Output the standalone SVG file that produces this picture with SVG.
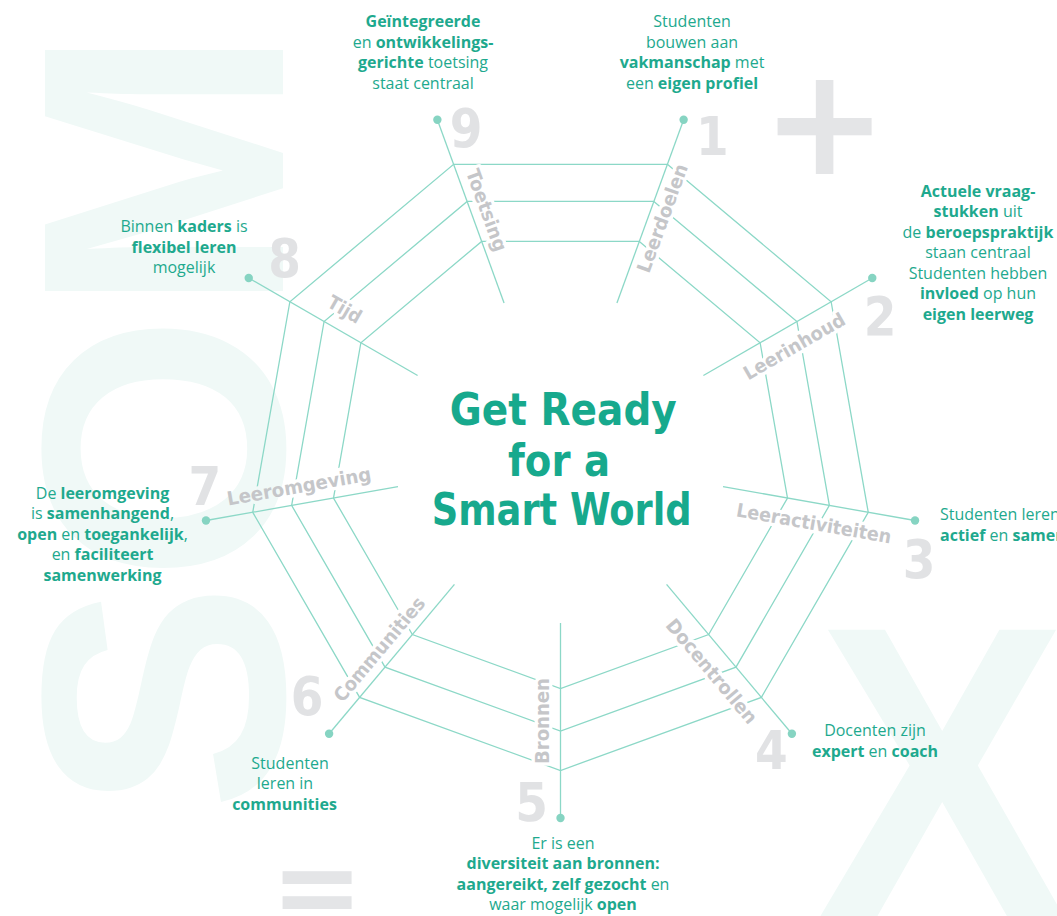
<svg xmlns="http://www.w3.org/2000/svg" width="1057" height="916" viewBox="0 0 1057 916">
<style>
.bg{fill:#f0f9f7;font-family:"Liberation Sans",Arial,sans-serif;font-weight:bold}
.sym{fill:#e4e5e7;font-family:"DejaVu Sans",sans-serif;font-weight:bold;text-anchor:middle}
.web{fill:none;stroke:#8cd8c7;stroke-width:1.3}
.dot{fill:#86d4c2}
.num{fill:#e1e2e4;font-family:"DejaVu Sans",sans-serif;font-weight:bold;font-size:54px;text-anchor:middle}
.lblc{fill:#c5c6c9}
.t{fill:#1ea98e;font-family:"Open Sans","Liberation Sans",sans-serif;font-size:16px;text-anchor:middle}
.s{text-anchor:start}
.b{font-weight:700}
.title{fill:#17a98d;font-family:"DejaVu Sans",sans-serif;font-weight:bold;font-size:44px;text-anchor:middle}
</style>
<defs>
<text id="L1" font-family="'DejaVu Sans', sans-serif" font-weight="bold" font-size="19" text-anchor="middle" dominant-baseline="central" transform="translate(662,218) rotate(-70)" textLength="114" lengthAdjust="spacingAndGlyphs">Leerdoelen</text>
<text id="L2" font-family="'DejaVu Sans', sans-serif" font-weight="bold" font-size="19" text-anchor="middle" dominant-baseline="central" transform="translate(794,346) rotate(-30)" textLength="114" lengthAdjust="spacingAndGlyphs">Leerinhoud</text>
<text id="L3" font-family="'DejaVu Sans', sans-serif" font-weight="bold" font-size="19" text-anchor="middle" dominant-baseline="central" transform="translate(814,523) rotate(10)" textLength="157" lengthAdjust="spacingAndGlyphs">Leeractiviteiten</text>
<text id="L4" font-family="'DejaVu Sans', sans-serif" font-weight="bold" font-size="19" text-anchor="middle" dominant-baseline="central" transform="translate(712,671) rotate(50)" textLength="130" lengthAdjust="spacingAndGlyphs">Docentrollen</text>
<text id="L5" font-family="'DejaVu Sans', sans-serif" font-weight="bold" font-size="19" text-anchor="middle" dominant-baseline="central" transform="translate(542,721) rotate(-90)" textLength="86" lengthAdjust="spacingAndGlyphs">Bronnen</text>
<text id="L6" font-family="'DejaVu Sans', sans-serif" font-weight="bold" font-size="19" text-anchor="middle" dominant-baseline="central" transform="translate(379,649) rotate(-50)" textLength="130" lengthAdjust="spacingAndGlyphs">Communities</text>
<text id="L7" font-family="'DejaVu Sans', sans-serif" font-weight="bold" font-size="19" text-anchor="middle" dominant-baseline="central" transform="translate(299,486) rotate(-10)" textLength="146" lengthAdjust="spacingAndGlyphs">Leeromgeving</text>
<text id="L8" font-family="'DejaVu Sans', sans-serif" font-weight="bold" font-size="19" text-anchor="middle" dominant-baseline="central" transform="translate(345,309) rotate(30)" textLength="36" lengthAdjust="spacingAndGlyphs">Tijd</text>
<text id="L9" font-family="'DejaVu Sans', sans-serif" font-weight="bold" font-size="19" text-anchor="middle" dominant-baseline="central" transform="translate(487,210) rotate(70)" textLength="86" lengthAdjust="spacingAndGlyphs">Toetsing</text>
<mask id="gap" maskUnits="userSpaceOnUse" x="0" y="0" width="1057" height="916">
<rect width="1057" height="916" fill="#fff"/>
<g fill="#000" stroke="#000" stroke-width="7" stroke-linejoin="round">
<use href="#L1"/><use href="#L2"/><use href="#L3"/><use href="#L4"/><use href="#L5"/><use href="#L6"/><use href="#L7"/><use href="#L8"/><use href="#L9"/>
</g>
</mask>
</defs>

<g id="watermark">
<text class="bg" font-size="346" transform="translate(283,812) rotate(-90)" textLength="785" lengthAdjust="spacingAndGlyphs">SOM</text>
<text class="bg" font-size="416" text-anchor="middle" transform="translate(942,916) scale(0.9,1)">X</text>
<text class="sym" font-size="150" x="824.5" y="174">+</text>
<text class="sym" font-size="110" x="317" y="925">=</text>
</g>

<g id="connectors" mask="url(#gap)">
<polygon class="web" points="667.38,164.35 831.13,301.75 868.25,512.27 761.37,697.39 560.5,770.5 359.63,697.39 252.75,512.27 289.87,301.75 453.62,164.35"/>
<polygon class="web" points="653.87,201.46 796.93,321.5 829.35,505.41 735.98,667.13 560.5,731 385.02,667.13 291.65,505.41 324.07,321.5 467.13,201.46"/>
<polygon class="web" points="639.34,241.4 760.12,342.75 787.5,498.03 708.66,634.57 560.5,688.5 412.34,634.57 333.5,498.03 360.88,342.75 481.66,241.4"/>
</g>

<g id="node1">
<line class="web" x1="683.63" y1="119.71" x2="616.93" y2="302.95"/>
<circle class="dot" cx="683.63" cy="119.71" r="4.2"/>
<use href="#L1" class="lblc"/>
<text class="num" transform="translate(712.3,155) scale(0.87,1)">1</text>
<text class="t" x="692" y="27">Studenten</text>
<text class="t" x="692" y="47.5">bouwen aan</text>
<text class="t" x="692" y="68"><tspan class="b">vakmanschap</tspan> met</text>
<text class="t" x="692" y="88.5">een <tspan class="b">eigen profiel</tspan></text>
</g>

<g id="node2">
<line class="web" x1="872.27" y1="278" x2="703.39" y2="375.5"/>
<circle class="dot" cx="872.27" cy="278" r="4.2"/>
<use href="#L2" class="lblc"/>
<text class="num" transform="translate(880,335) scale(0.87,1)">2</text>
<text class="t" x="978" y="196.5"><tspan class="b">Actuele vraag-</tspan></text>
<text class="t" x="978" y="217"><tspan class="b">stukken</tspan> uit</text>
<text class="t" x="978" y="237.5">de <tspan class="b">beroepspraktijk</tspan></text>
<text class="t" x="978" y="258">staan centraal</text>
<text class="t" x="978" y="278.5">Studenten hebben</text>
<text class="t" x="978" y="299"><tspan class="b">invloed</tspan> op hun</text>
<text class="t" x="978" y="320"><tspan class="b">eigen leerweg</tspan></text>
</g>

<g id="node3">
<line class="web" x1="915.03" y1="520.51" x2="722.99" y2="486.65"/>
<circle class="dot" cx="915.03" cy="520.51" r="4.2"/>
<use href="#L3" class="lblc"/>
<text class="num" transform="translate(919.2,578) scale(0.87,1)">3</text>
<text class="t s" x="940" y="520">Studenten leren</text>
<text class="t s" x="940" y="540.5"><tspan class="b">actief</tspan> en <tspan class="b">samen</tspan></text>
</g>

<g id="node4">
<line class="web" x1="791.9" y1="733.77" x2="666.56" y2="584.4"/>
<circle class="dot" cx="791.9" cy="733.77" r="4.2"/>
<use href="#L4" class="lblc"/>
<text class="num" transform="translate(771.3,769) scale(0.87,1)">4</text>
<text class="t" x="875" y="736">Docenten zijn</text>
<text class="t" x="875" y="756.5"><tspan class="b">expert</tspan> en <tspan class="b">coach</tspan></text>
</g>

<g id="node5">
<line class="web" x1="560.5" y1="818" x2="560.5" y2="623"/>
<circle class="dot" cx="560.5" cy="818" r="4.2"/>
<use href="#L5" class="lblc"/>
<text class="num" transform="translate(531.7,820.5) scale(0.87,1)">5</text>
<text class="t" x="563" y="848.5">Er is een</text>
<text class="t" x="563" y="869"><tspan class="b">diversiteit aan bronnen:</tspan></text>
<text class="t" x="563" y="889.5"><tspan class="b">aangereikt, zelf gezocht</tspan> en</text>
<text class="t" x="563" y="910">waar mogelijk <tspan class="b">open</tspan></text>
</g>

<g id="node6">
<line class="web" x1="329.1" y1="733.77" x2="454.44" y2="584.4"/>
<circle class="dot" cx="329.1" cy="733.77" r="4.2"/>
<use href="#L6" class="lblc"/>
<text class="num" transform="translate(307,715) scale(0.87,1)">6</text>
<text class="t" x="290" y="768.5">Studenten</text>
<text class="t" x="285" y="789">leren in</text>
<text class="t" x="284.5" y="809.5"><tspan class="b">communities</tspan></text>
</g>

<g id="node7">
<line class="web" x1="205.97" y1="520.51" x2="398.01" y2="486.65"/>
<circle class="dot" cx="205.97" cy="520.51" r="4.2"/>
<use href="#L7" class="lblc"/>
<text class="num" transform="translate(204.8,505) scale(0.87,1)">7</text>
<text class="t" x="102.5" y="498.5">De <tspan class="b">leeromgeving</tspan></text>
<text class="t" x="102.5" y="519">is <tspan class="b">samenhangend</tspan>,</text>
<text class="t" x="102.5" y="539.5"><tspan class="b">open</tspan> en <tspan class="b">toegankelijk</tspan>,</text>
<text class="t" x="102.5" y="560">en <tspan class="b">faciliteert</tspan></text>
<text class="t" x="102.5" y="580.5"><tspan class="b">samenwerking</tspan></text>
</g>

<g id="node8">
<line class="web" x1="248.73" y1="278" x2="417.61" y2="375.5"/>
<circle class="dot" cx="248.73" cy="278" r="4.2"/>
<use href="#L8" class="lblc"/>
<text class="num" transform="translate(284.7,276.7) scale(0.87,1)">8</text>
<text class="t" x="184" y="232">Binnen <tspan class="b">kaders</tspan> is</text>
<text class="t" x="184" y="252.5"><tspan class="b">flexibel leren</tspan></text>
<text class="t" x="184" y="273">mogelijk</text>
</g>

<g id="node9">
<line class="web" x1="437.37" y1="119.71" x2="504.07" y2="302.95"/>
<circle class="dot" cx="437.37" cy="119.71" r="4.2"/>
<use href="#L9" class="lblc"/>
<text class="num" transform="translate(466,147) scale(0.87,1)">9</text>
<text class="t" x="423" y="27"><tspan class="b">Geïntegreerde</tspan></text>
<text class="t" x="423" y="47.5">en <tspan class="b">ontwikkelings-</tspan></text>
<text class="t" x="423" y="68"><tspan class="b">gerichte</tspan> toetsing</text>
<text class="t" x="423" y="88.5">staat centraal</text>
</g>

<g id="title">
<text class="title" x="563.3" y="425" textLength="227" lengthAdjust="spacingAndGlyphs">Get Ready</text>
<text class="title" x="559" y="476" textLength="102" lengthAdjust="spacingAndGlyphs">for a</text>
<text class="title" x="561.7" y="525" textLength="260" lengthAdjust="spacingAndGlyphs">Smart World</text>
</g>
</svg>
